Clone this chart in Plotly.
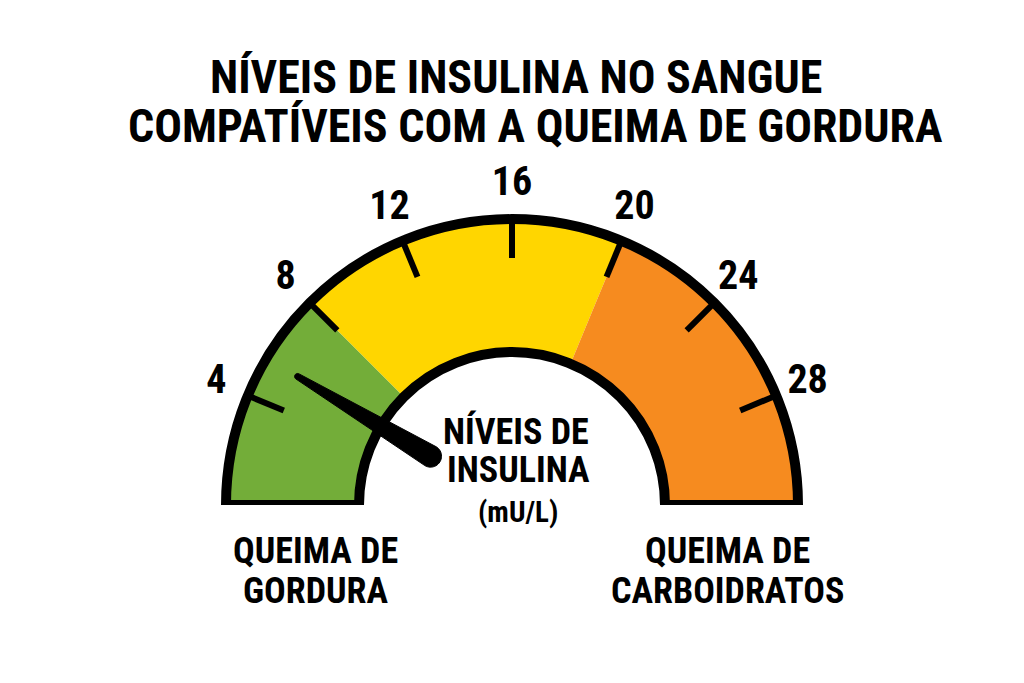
import numpy as np
import plotly.graph_objects as go

# ---------------- data ----------------
scale_max = 32
tick_values = [4, 8, 12, 16, 20, 24, 28]
tick_labels = ["4", "8", "12", "16", "20", "24", "28"]
zone_names = ["Queima de gordura", "Intermediário", "Queima de carboidratos"]
zone_start = [0, 8, 20]
zone_end = [8, 20, 32]
zone_colors = ["#73AD39", "#FFD600", "#F68B1F"]
needle_value = 5.5

title_lines = ["NÍVEIS DE INSULINA NO SANGUE", "COMPATÍVEIS COM A QUEIMA DE GORDURA"]
center_label = ["NÍVEIS DE", "INSULINA"]
unit_label = "(mU/L)"
left_label = ["QUEIMA DE", "GORDURA"]
right_label = ["QUEIMA DE", "CARBOIDRATOS"]

# ---------------- geometry / style ----------------
W, H = 1024, 683
CX, CY = 512, 505          # gauge centre in px
R_OUT = 286                # outer ring (px == radial units)
R_IN = 153
R_MAX = 345                # radial range (room for tick labels)
R_LABEL = 320
DEG = 180.0 / scale_max
FONT = "Roboto Condensed, Liberation Sans Narrow, DejaVu Sans Condensed, Roboto, sans-serif"


def phi(v):
    return 180.0 - np.asarray(v, dtype=float) * DEG


fig = go.Figure()

# coloured zones
for name, a, b, c in zip(zone_names, zone_start, zone_end, zone_colors):
    fig.add_trace(go.Barpolar(
        r=[R_OUT - R_IN], base=[R_IN], theta=[float(phi((a + b) / 2))],
        width=[(b - a) * DEG], marker=dict(color=c, line=dict(width=0)),
        name=name, hoverinfo="skip", showlegend=False))

# tick marks (inside the band, from the outer edge inwards)
tr, tth = [], []
for v in tick_values:
    tr += [R_OUT, R_OUT - 39, None]
    tth += [float(phi(v)), float(phi(v)), None]
fig.add_trace(go.Scatterpolar(
    r=tr, theta=tth, mode="lines", line=dict(color="black", width=6),
    hoverinfo="skip", showlegend=False, cliponaxis=False))

# black outline of the whole band
fig.add_trace(go.Barpolar(
    r=[R_OUT - R_IN], base=[R_IN], theta=[90], width=[180],
    marker=dict(color="rgba(0,0,0,0)", line=dict(color="black", width=10)),
    hoverinfo="skip", showlegend=False))

# needle (radial, pivot offset from centre, rounded ends)
r_piv, r_tip, w_piv, w_tip = 95, 250, 11, 3
ang = np.deg2rad(float(phi(needle_value)))
u = np.array([np.cos(ang), np.sin(ang)])
n = np.array([-np.sin(ang), np.cos(ang)])
P0, Pt = r_piv * u, r_tip * u
pts = [P0 + w_piv * n]
for t in np.linspace(np.pi / 2, -np.pi / 2, 15):
    pts.append(Pt + w_tip * (np.cos(t) * u + np.sin(t) * n))
for t in np.linspace(-np.pi / 2, -3 * np.pi / 2, 25):
    pts.append(P0 + w_piv * (np.cos(t) * u + np.sin(t) * n))
pts = np.array(pts)
nr = np.hypot(pts[:, 0], pts[:, 1])
nth = np.degrees(np.arctan2(pts[:, 1], pts[:, 0]))
fig.add_trace(go.Scatterpolar(
    r=nr, theta=nth, mode="lines", fill="toself", fillcolor="black",
    line=dict(color="black", width=1), hoverinfo="skip", showlegend=False,
    cliponaxis=False))

# tick labels
fig.add_trace(go.Scatterpolar(
    r=[R_LABEL] * len(tick_values), theta=phi(tick_values), mode="text",
    text=tick_labels, textposition="middle center",
    textfont=dict(family=FONT, size=40, color="black", weight="bold"),
    hoverinfo="skip", showlegend=False, cliponaxis=False))

fig.update_layout(
    width=W, height=H, margin=dict(l=0, r=0, t=0, b=0),
    paper_bgcolor="white", plot_bgcolor="white", showlegend=False,
    polar=dict(
        domain=dict(x=[(CX - R_MAX) / W, (CX + R_MAX) / W],
                    y=[(H - CY) / H, (H - CY + R_MAX) / H]),
        sector=[0, 180], hole=0, bgcolor="rgba(0,0,0,0)",
        radialaxis=dict(range=[0, R_MAX], visible=False),
        angularaxis=dict(visible=False, showgrid=False, showline=False),
    ),
)


def ann(text, x, y, size):
    fig.add_annotation(text=text, x=x / W, y=1 - y / H, xref="paper", yref="paper",
                       xanchor="center", yanchor="middle", showarrow=False,
                       font=dict(family=FONT, size=size, color="black", weight="bold"))


ann(title_lines[0], 516, 77, 46)
ann(title_lines[1], 535, 126, 46)
ann(center_label[0], 516, 431, 36)
ann(center_label[1], 518, 470, 36)
ann(unit_label, 518, 512, 29)
ann(left_label[0], 315, 551, 36)
ann(left_label[1], 316, 591, 36)
ann(right_label[0], 727, 551, 36)
ann(right_label[1], 727, 591, 36)

fig.write_html("out.html", config={"displayModeBar": False},
               post_script="document.body.style.margin='0';")
